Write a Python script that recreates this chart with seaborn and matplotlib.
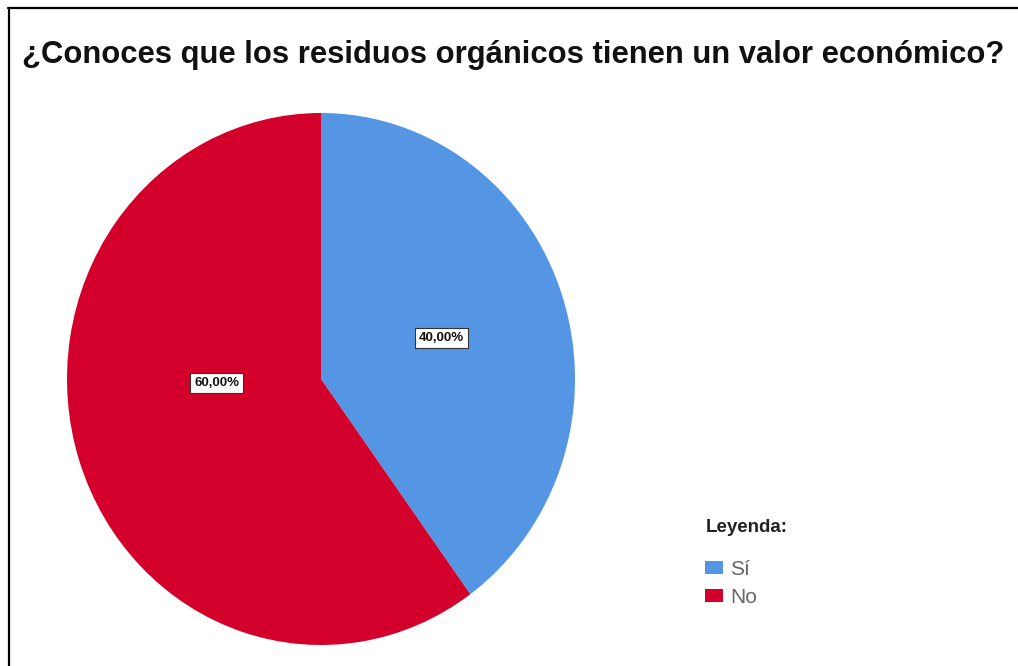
import matplotlib
matplotlib.use("Agg")
import matplotlib.pyplot as plt
from matplotlib.lines import Line2D
from matplotlib.patches import Patch
import seaborn as sns

# Survey answers and their shares (%)
categories = ["Sí", "No"]
shares = [40.0, 60.0]
slice_colors = ["#5596E4", "#D2002A"]

title = "¿Conoces que los residuos orgánicos tienen un valor económico?"
legend_title = "Leyenda:"

sns.set_theme(style="white")
plt.rcParams["font.family"] = ["Liberation Sans", "DejaVu Sans"]

fig = plt.figure(figsize=(10.18, 6.66), dpi=100)
fig.patch.set_facecolor("white")

# Pie axes: slightly taller than wide, as drawn
ax = fig.add_axes([67 / 1018, 21 / 666, 508 / 1018, 532 / 666])
wedges, texts, autotexts = ax.pie(
    shares,
    colors=slice_colors,
    startangle=90,
    counterclock=False,
    radius=1.0,
    autopct=lambda p: f"{p:.2f}%".replace(".", ","),
    pctdistance=0.5,
    wedgeprops=dict(linewidth=0),
    textprops=dict(fontsize=9.5, fontweight="bold", color="#111111"),
)
ax.set_aspect("auto")
ax.set_xlim(-1, 1)
ax.set_ylim(-1, 1)
ax.axis("off")

for t in autotexts:
    t.set_bbox(dict(boxstyle="square,pad=0.3", facecolor="white",
                    edgecolor="#333333", linewidth=0.8))
# the larger slice keeps its label near the horizontal
autotexts[1].set_position((-0.41, -0.015))

# Title
fig.text(22 / 1018, 1 - 55 / 666, title, fontsize=22.3, fontweight="bold",
         color="#111111", ha="left", va="center")

# Frame lines (top and left)
fig.add_artist(Line2D([8 / 1018, 1.0], [1 - 7.5 / 666] * 2,
                      transform=fig.transFigure, color="black", linewidth=1.6))
fig.add_artist(Line2D([8.5 / 1018] * 2, [0.0, 1 - 7.5 / 666],
                      transform=fig.transFigure, color="black", linewidth=1.6))

# Legend
fig.text(706 / 1018, 1 - 528 / 666, legend_title, fontsize=13.5,
         fontweight="bold", color="#222222", ha="left", va="center")
handles = [Patch(facecolor=c, edgecolor="none") for c in slice_colors]
leg = fig.legend(handles, categories, loc="upper left",
                 bbox_to_anchor=(690 / 1018, 1 - 545 / 666),
                 frameon=False, fontsize=15, handlelength=0.87,
                 handleheight=0.6, handletextpad=0.34, labelspacing=0.45,
                 borderpad=0.2)
for t in leg.get_texts():
    t.set_color("#666666")

fig.savefig("out.png", dpi=100, facecolor="white")
